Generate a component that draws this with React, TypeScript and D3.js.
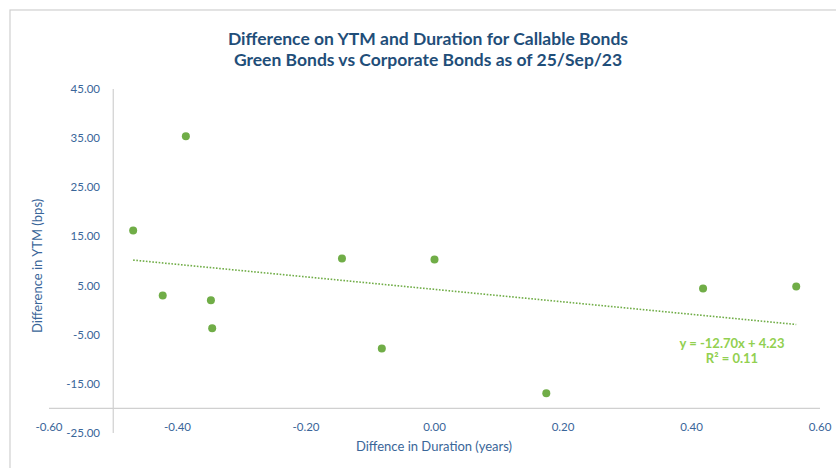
import React from "react";
import * as d3 from "d3";

// Difference in duration (years) vs difference in YTM (bps), callable bonds
const durationDiff = [-0.469, -0.387, -0.423, -0.348, -0.346, -0.144, 0.0, -0.082, 0.174, 0.418, 0.563];
const ytmDiff = [16.2, 35.4, 3.0, 2.0, -3.7, 10.5, 10.3, -7.8, -16.9, 4.4, 4.8];

const xTicks = [-0.6, -0.4, -0.2, 0.0, 0.2, 0.4, 0.6];
const yTicks = [-25, -15, -5, 5, 15, 25, 35, 45];

// Linear trendline as reported on the chart
const trendSlope = -12.7;
const trendIntercept = 4.23;
const rSquared = 0.11;

const titleLines = [
  "Difference on YTM and Duration for Callable Bonds",
  "Green Bonds vs Corporate Bonds as of 25/Sep/23",
];

const W = 836;
const H = 468;
const FONT = "Lato, 'Open Sans', sans-serif";
const AXIS_COLOR = "#3A6699";
const TITLE_COLOR = "#1F4E79";
const POINT_COLOR = "#70AD47";
const TREND_LABEL_COLOR = "#92D050";
const LINE_COLOR = "#D0D0D0";

const locale = d3.formatLocale({
  decimal: ".",
  thousands: ",",
  grouping: [3],
  currency: ["$", ""],
  minus: "-",
});
const fmt = locale.format(".2f");

export default function App() {
  const x = d3.scaleLinear().domain([-0.6, 0.6]).range([49, 820]);
  const y = d3.scaleLinear().domain([-25, 45]).range([433, 89]);

  // axes cross at x = -0.5 and y = -20, labels sit at the plot edges
  const xCross = x(-0.5);
  const yCross = y(-20);

  const xMin = d3.min(durationDiff) as number;
  const xMax = d3.max(durationDiff) as number;
  const trend = d3
    .line<number>()
    .x((v) => x(v))
    .y((v) => y(trendSlope * v + trendIntercept));

  const points = durationDiff.map((d, i) => ({ dx: d, dy: ytmDiff[i] }));

  return (
    <svg width={W} height={H} style={{ display: "block", position: "absolute", left: 0, top: 0 }}>
      <rect x={0} y={0} width={W} height={H} fill="#ffffff" />
      <rect x={10} y={10} width={W} height={H} fill="none" stroke={LINE_COLOR} strokeWidth={1.2} />

      {titleLines.map((t, i) => (
        <text
          key={i}
          x={428}
          y={45 + i * 21}
          textAnchor="middle"
          fontFamily={FONT}
          fontWeight={700}
          fontSize={17.5}
          fill={TITLE_COLOR}
        >
          {t}
        </text>
      ))}

      {/* axis lines */}
      <line x1={x(-0.6)} x2={x(0.6)} y1={yCross} y2={yCross} stroke={LINE_COLOR} strokeWidth={1.2} />
      <line x1={xCross} x2={xCross} y1={y(45)} y2={y(-25)} stroke={LINE_COLOR} strokeWidth={1.2} />

      {/* x tick labels */}
      {xTicks.map((t) => (
        <text
          key={"x" + t}
          x={x(t)}
          y={431}
          textAnchor="middle"
          fontFamily={FONT}
          fontSize={11.5}
          fill={AXIS_COLOR}
        >
          {fmt(t)}
        </text>
      ))}

      {/* y tick labels */}
      {yTicks.map((t) => (
        <text
          key={"y" + t}
          x={100}
          y={y(t)}
          dy="0.35em"
          textAnchor="end"
          fontFamily={FONT}
          fontSize={11.5}
          fill={AXIS_COLOR}
        >
          {fmt(t)}
        </text>
      ))}

      {/* axis titles */}
      <text
        x={434}
        y={451}
        textAnchor="middle"
        fontFamily={FONT}
        fontSize={13}
        fill={AXIS_COLOR}
      >
        Diffence in Duration (years)
      </text>
      <text
        transform={`translate(42, ${y(9)}) rotate(-90)`}
        textAnchor="middle"
        fontFamily={FONT}
        fontSize={13}
        fill={AXIS_COLOR}
      >
        Difference in YTM (bps)
      </text>

      {/* trendline */}
      <path
        d={trend([xMin, xMax]) ?? ""}
        fill="none"
        stroke={POINT_COLOR}
        strokeWidth={1.6}
        strokeDasharray="1.6,1.6"
      />

      {/* points */}
      {points.map((p, i) => (
        <circle key={i} cx={x(p.dx)} cy={y(p.dy)} r={4} fill={POINT_COLOR} />
      ))}

      {/* trendline equation */}
      <text x={732} y={348} textAnchor="middle" fontFamily={FONT} fontWeight={700} fontSize={13} fill={TREND_LABEL_COLOR}>
        {`y = ${fmt(trendSlope)}x + ${fmt(trendIntercept)}`}
      </text>
      <text x={732} y={363} textAnchor="middle" fontFamily={FONT} fontWeight={700} fontSize={13} fill={TREND_LABEL_COLOR}>
        {`R² = ${fmt(rSquared)}`}
      </text>
    </svg>
  );
}
